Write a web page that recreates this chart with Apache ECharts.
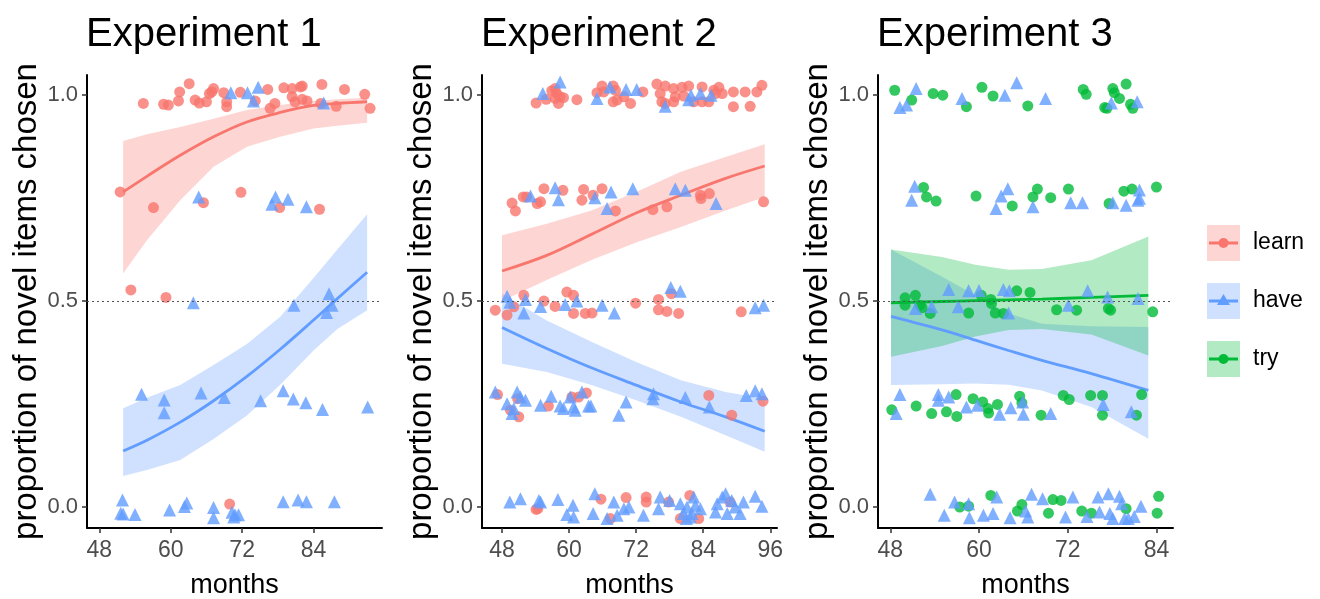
<!DOCTYPE html>
<html><head><meta charset="utf-8">
<script src="https://cdn.jsdelivr.net/npm/echarts@6/dist/echarts.min.js"></script>
<style>html,body{margin:0;padding:0;background:#fff}#c{width:1320px;height:599px}</style>
</head><body><div id="c"></div>
<script>
// ---------- data ----------
const titles = ['Experiment 1', 'Experiment 2', 'Experiment 3'];
const yTicks = [0, 0.5, 1];
const xTicks1 = [48, 60, 72, 84];
const xTicks2 = [48, 60, 72, 84, 96];
const xTicks3 = [48, 60, 72, 84];
const legendNames = ['learn', 'have', 'try'];

const exp1Learn = [[55.4,.98],[58.8,.978],[59.6,.976],[61.5,1.008],[61.3,.986],[63.1,1.028],[64.1,.988],[64.8,.981],[66.0,.984],[66.5,1.004],[67.2,1.016],[66.9,1.008],[68.9,1.006],[69.4,.984],[69.4,.972],[71.7,1.007],[74.2,.986],[76.3,1.014],[76.7,.968],[77.5,.98],[79.0,1.018],[80.4,1.016],[80.4,.996],[81.8,1.02],[82.1,1.022],[80.9,.984],[82.1,.99],[82.9,.986],[85.4,1.026],[85.2,.98],[87.8,.973],[89.2,1.014],[92.6,1.002],[93.5,.968],
  [51.5,.765],[57.1,.727],[65.5,.739],[71.8,.764],[78.3,.727],[85.0,.723],
  [53.3,.527],[59.2,.509],[69.9,.007]];
const exp1Have = [[70.1,1.006],[72.9,1.006],[74.7,1.019],[73.9,.986],[85.7,.981],
  [64.7,.753],[77.6,.753],[77.0,.735],[79.7,.747],[82.8,.729],
  [63.8,.496],[86.6,.518],[87.1,.49],[86.2,.472],[80.7,.49],
  [55.1,.274],[58.9,.26],[58.9,.229],[65.1,.277],[69.0,.266],[75.1,.258],[78.9,.282],[80.6,.262],[82.7,.253],[85.5,.237],[93.1,.243],
  [51.9,.017],[51.6,-.015],[52.0,-.017],[54.0,-.018],[59.8,-.007],[62.3,.001],[62.7,.01],[67.2,-.001],[67.2,-.026],[70.3,-.013],[70.8,-.019],[71.4,-.019],[70.6,-.024],[78.9,.013],[81.4,.017],[82.8,.013],[87.5,.013]];

const exp2Learn = [[54.1,.981],[55.9,.99],[56.9,1.011],[57.5,1.016],[57.8,1.004],[58.4,.996],[58.1,.98],[59.0,.994],[57.5,.992],[61.4,.989],[65.0,1.006],[65.9,1.022],[66.2,1.008],[67.9,1.022],[68.3,1.012],[67.9,.984],[68.6,.988],[69.8,.996],[71.0,.98],[73.2,1.008],[75.7,1.027],[77.2,1.022],[76.3,1.004],[76.6,.984],[77.2,.98],[78.7,1.016],[80.2,1.019],[81.4,1.022],[79.0,.996],[80.5,.998],[78.7,.984],[82.3,.984],[83.8,.984],[85.0,.984],[83.8,1.02],[85.9,1.012],[86.8,1.019],[86.2,1.004],[87.4,1.004],[89.4,1.008],[89.4,.972],[91.5,1.008],[92.4,.973],[93.6,1.008],[94.5,1.024],
  [49.8,.738],[50.4,.719],[51.8,.753],[52.4,.753],[54.3,.737],[54.9,.741],[55.5,.773],[58.9,.769],[62.6,.771],[62.3,.745],[64.3,.757],[65.9,.773],[68.3,.719],[75.0,.722],[77.5,.729],[83.5,.757],[83.6,.749],[85.1,.761],[94.8,.741],
  [46.8,.478],[48.9,.466],[50.1,.486],[51.9,.514],[55.5,.5],[57.5,.487],[59.6,.522],[60.8,.514],[60.8,.47],[62.9,.47],[64.1,.471],[71.9,.495],[76.0,.504],[76.0,.479],[77.5,.475],[78.3,.518],[79.6,.47],[90.8,.474],
  [47.2,.273],[49.5,.235],[51.0,.219],[50.8,.263],[56.3,.245],[60.5,.267],[61.7,.267],[63.1,.277],[85.0,.271],[89.1,.223],[94.7,.257],
  [54.1,-.006],[54.4,-.004],[65.7,.019],[67.4,-.028],[70.2,.023],[73.8,.024],[73.8,.012],[77.8,.012],[79.9,-.028],[81.6,.028],[83.2,-.028],[88.8,.012]];
const exp2Have = [[55.3,1.004],[58.4,1.032],[65.0,.992],[67.3,1.02],[70.2,1.014],[72.1,1.014],[77.2,.973],[81.4,.989],[81.8,1.0],[83.5,1.004],[85.4,1.0],
  [53.1,.755],[57.5,.775],[58.1,.746],[64.6,.751],[67.5,.765],[66.8,.725],[71.4,.773],[79.0,.773],[80.8,.769],[86.3,.737],
  [48.9,.512],[49.4,.497],[51.9,.471],[52.2,.504],[54.9,.487],[59.3,.492],[61.4,.5],[65.9,.49],[68.1,.471],[78.2,.533],[79.9,.524],[93.3,.484],[94.8,.49],
  [46.8,.279],[48.9,.251],[50.7,.279],[51.3,.267],[52.2,.259],[49.8,.227],[50.1,.239],[54.9,.247],[56.8,.269],[58.4,.245],[59.0,.239],[60.2,.267],[61.1,.235],[60.8,.243],[62.3,.279],[63.5,.245],[63.9,.245],[68.9,.223],[70.2,.255],[75.1,.275],[75.0,.263],[80.8,.266],[85.1,.243],[91.7,.271],[93.3,.282],[94.5,.275],
  [49.4,.012],[51.3,.02],[54.6,.016],[54.9,.012],[58.0,.018],[59.6,-.018],[60.8,-.024],[60.7,.004],[64.3,-.016],[64.6,.032],[66.8,-.028],[68.0,.012],[68.6,-.02],[69.8,-.004],[70.7,0],[73.3,-.02],[76.3,.024],[76.0,-.004],[78.0,.016],[79.9,.008],[80.4,-.016],[81.1,0],[81.7,-.024],[82.3,.024],[82.6,.004],[83.5,-.004],[81.0,-.028],[82.0,-.016],[86.2,-.012],[86.5,.008],[87.4,.024],[88.0,.032],[88.3,-.016],[89.1,.016],[89.7,0],[90.6,-.016],[91.2,.012],[93.3,.026],[94.5,.002]];

const exp3Try = [[48.6,1.012],[50.9,.988],[53.8,1.004],[55.1,1.0],[58.3,.972],[60.4,1.019],[61.9,.998],[66.6,.974],[74.1,1.014],[74.5,1.002],[77.0,.97],[77.3,.968],[78.1,1.016],[78.3,1.006],[79.0,.992],[79.9,1.027],[80.5,.978],[80.8,.968],
  [52.5,.776],[52.9,.753],[54.2,.743],[59.6,.755],[64.5,.731],[67.3,.753],[67.9,.772],[69.7,.751],[72.1,.772],[77.6,.737],[79.6,.767],[80.7,.772],[84.0,.777],
  [50.0,.508],[51.4,.514],[50.0,.49],[61.6,.504],[65.1,.525],[66.9,.521],[60.3,.514],[52.0,.49],[52.3,.484],[53.4,.47],[58.6,.471],[61.7,.494],[62.2,.471],[63.3,.47],[70.5,.479],[73.2,.478],[77.5,.482],[77.8,.478],[83.5,.474],
  [48.2,.236],[51.5,.245],[53.6,.227],[55.6,.231],[56.9,.273],[57.0,.22],[59.2,.263],[60.5,.255],[61.2,.239],[61.3,.228],[62.5,.249],[65.5,.269],[65.8,.253],[68.4,.223],[71.4,.271],[72.2,.261],[75.1,.271],[76.7,.271],[76.7,.223],[81.3,.223],[82.0,.273],
  [61.6,.028],[57.4,0],[58.6,.002],[65.8,.006],[65.2,-.01],[69.4,-.015],[70.0,.018],[71.1,.016],[73.9,-.01],[75.2,-.015],[79.9,-.004],[84.3,.026],[84.1,-.015]];
const exp3Have = [[49.3,.97],[50.2,.976],[51.5,1.016],[57.7,.992],[63.5,1.0],[65.1,1.03],[69.0,.992],[77.9,.981],[81.4,.984],
  [51.3,.779],[50.9,.745],[63.0,.755],[63.9,.773],[62.3,.725],[67.3,.729],[72.4,.739],[74.0,.739],[78.1,.739],[79.9,.733],[81.7,.77],[81.7,.75],[81.5,.745],
  [55.9,.528],[58.6,.525],[60.0,.526],[63.3,.528],[64.1,.525],[74.7,.525],[77.4,.51],[81.5,.506],[51.4,.482],[53.6,.486],[57.2,.486],[64.0,.471],[72.1,.49],
  [49.3,.273],[48.8,.227],[54.5,.273],[54.5,.259],[55.9,.267],[58.3,.243],[59.8,.247],[62.8,.225],[64.3,.241],[66.0,.225],[65.9,.255],[69.7,.227],[76.8,.249],[80.6,.231],
  [53.4,.031],[55.3,-.02],[56.7,.012],[58.6,.008],[58.7,-.026],[60.6,-.02],[61.9,-.016],[62.4,.024],[64.2,-.026],[66.6,-.024],[66.3,-.01],[67.1,.031],[68.6,.02],[71.7,-.024],[72.7,.024],[74.6,-.023],[76.1,.024],[76.3,-.012],[77.5,.032],[77.7,-.016],[79.0,.026],[79.3,.008],[78.1,-.028],[79.7,-.028],[80.2,-.028],[81.0,-.023],[81.9,.002]];

// fitted curves and confidence bands
const exp1FitX     = [52, 56, 61.6, 67.2, 72.8, 78.4, 84, 88, 93];
const exp1LearnFit = [.765,.803,.854,.899,.935,.958,.975,.980,.984];
const exp1LearnLo  = [.567,.648,.745,.826,.875,.899,.919,.926,.933];
const exp1LearnHi  = [.889,.905,.923,.943,.964,.976,.986,.990,.994];
const exp1HaveFit  = [.136,.162,.206,.258,.317,.383,.454,.506,.570];
const exp1HaveLo   = [.075,.090,.114,.165,.222,.297,.380,.432,.478];
const exp1HaveHi   = [.240,.265,.296,.345,.396,.462,.556,.625,.711];

const exp2FitX     = [48, 56, 64, 72, 80, 88, 95];
const exp2LearnFit = [.573,.611,.662,.714,.757,.798,.828];
const exp2LearnLo  = [.500,.551,.600,.642,.680,.720,.753];
const exp2LearnHi  = [.660,.688,.720,.765,.814,.850,.881];
const exp2HaveFit  = [.436,.385,.338,.296,.255,.219,.184];
const exp2HaveLo   = [.348,.328,.296,.259,.219,.174,.134];
const exp2HaveHi   = [.518,.453,.401,.352,.308,.279,.263];

const exp3FitX     = [48.1, 55.0, 59.5, 64.0, 68.5, 75.2, 82.9];
const exp3TryFit   = [.496,.499,.501,.503,.505,.509,.514];
const exp3TryLo    = [.365,.391,.414,.430,.432,.419,.368];
const exp3TryHi    = [.625,.607,.588,.576,.578,.599,.657];
const exp3HaveFit  = [.463,.430,.405,.380,.356,.324,.283];
const exp3HaveLo   = [.296,.298,.300,.297,.283,.243,.166];
const exp3HaveHi   = [.625,.559,.514,.470,.445,.439,.437];

// ---------- style ----------
const FONT = 'Liberation Sans, Arial, Helvetica, sans-serif';
const C = { learn: '#F8766D', have: '#619CFF', try: '#00BA38' };
const grids = [
  { left: 87, top: 75, width: 295, height: 453, outerBoundsMode: 'none', containLabel: false },
  { left: 482, top: 75, width: 295, height: 453, outerBoundsMode: 'none', containLabel: false },
  { left: 878, top: 75, width: 295, height: 453, outerBoundsMode: 'none', containLabel: false }
];
const xRanges = [[45.93, 95.5], [44.42, 97.2], [46.34, 86.24]];
const xTickSets = [xTicks1, xTicks2, xTicks3];

const xAxes = xRanges.map((r, i) => ({
  type: 'value', gridIndex: i, min: r[0], max: r[1],
  name: 'months', nameLocation: 'middle', nameGap: 44,
  nameTextStyle: { fontSize: 27, color: '#000', fontFamily: FONT },
  axisLine: { show: true, onZero: false, lineStyle: { color: '#000', width: 2 } },
  axisTick: { show: true, customValues: xTickSets[i], length: 5, lineStyle: { color: '#333', width: 1.5 } },
  axisLabel: { customValues: xTickSets[i], fontSize: 23, color: '#4d4d4d', margin: 11, fontFamily: FONT },
  splitLine: { show: false }
}));
const yAxes = grids.map((g, i) => ({
  type: 'value', gridIndex: i, min: -0.051, max: 1.049,
  name: 'proportion of novel items chosen', nameLocation: 'middle', nameGap: 38,
  nameTextStyle: { fontSize: 33, color: '#000', fontFamily: FONT },
  axisLine: { show: true, onZero: false, lineStyle: { color: '#000', width: 2 } },
  axisTick: { show: true, customValues: yTicks, length: 5, lineStyle: { color: '#333', width: 1.5 } },
  axisLabel: { customValues: yTicks, formatter: v => v.toFixed(1), fontSize: 22, color: '#4d4d4d', margin: 9, fontFamily: FONT },
  splitLine: { show: false }
}));

function ribbon(idx, xs, lo, hi, color) {
  return {
    type: 'custom', xAxisIndex: idx, yAxisIndex: idx, z: 1, silent: true,
    data: xs.map((x, i) => [x, lo[i], hi[i]]),
    encode: { x: 0, y: [1, 2] },
    renderItem: (params, api) => {
      if (params.dataIndex !== 0) return null;
      const pts = [];
      for (let i = 0; i < xs.length; i++) pts.push(api.coord([xs[i], hi[i]]));
      for (let i = xs.length - 1; i >= 0; i--) pts.push(api.coord([xs[i], lo[i]]));
      return { type: 'polygon', shape: { points: pts }, style: { fill: color, opacity: 0.3 } };
    }
  };
}
function fitLine(idx, xs, ys, color) {
  return {
    type: 'line', xAxisIndex: idx, yAxisIndex: idx, z: 2, silent: true,
    data: xs.map((x, i) => [x, ys[i]]), smooth: 0.35, showSymbol: false,
    lineStyle: { color: color, width: 2.8 }
  };
}
function pts(idx, data, color, symbol, withRef) {
  const s = {
    type: 'scatter', xAxisIndex: idx, yAxisIndex: idx, z: 3, silent: true,
    data: data, symbol: symbol, symbolSize: symbol === 'triangle' ? 13 : 11,
    itemStyle: { color: color, opacity: 0.8 }
  };
  if (withRef) {
    s.markLine = {
      silent: true, symbol: 'none', label: { show: false },
      lineStyle: { type: [2, 3], color: '#555', width: 1 },
      data: [{ yAxis: 0.5 }]
    };
  }
  return s;
}

const series = [
  pts(0, [], C.learn, 'circle', true),
  pts(1, [], C.learn, 'circle', true),
  pts(2, [], C.try, 'circle', true),
  ribbon(0, exp1FitX, exp1LearnLo, exp1LearnHi, C.learn),
  ribbon(0, exp1FitX, exp1HaveLo, exp1HaveHi, C.have),
  ribbon(1, exp2FitX, exp2LearnLo, exp2LearnHi, C.learn),
  ribbon(1, exp2FitX, exp2HaveLo, exp2HaveHi, C.have),
  ribbon(2, exp3FitX, exp3HaveLo, exp3HaveHi, C.have),
  ribbon(2, exp3FitX, exp3TryLo, exp3TryHi, C.try),
  fitLine(0, exp1FitX, exp1LearnFit, C.learn),
  fitLine(0, exp1FitX, exp1HaveFit, C.have),
  fitLine(1, exp2FitX, exp2LearnFit, C.learn),
  fitLine(1, exp2FitX, exp2HaveFit, C.have),
  fitLine(2, exp3FitX, exp3HaveFit, C.have),
  fitLine(2, exp3FitX, exp3TryFit, C.try),
  pts(0, exp1Learn, C.learn, 'circle'),
  pts(0, exp1Have, C.have, 'triangle'),
  pts(1, exp2Learn, C.learn, 'circle'),
  pts(1, exp2Have, C.have, 'triangle'),
  pts(2, exp3Try, C.try, 'circle'),
  pts(2, exp3Have, C.have, 'triangle')
];

// legend built as graphics
const legendColors = [C.learn, C.have, C.try];
const legendShapes = ['circle', 'triangle', 'circle'];
const legendGraphics = [];
legendNames.forEach((n, i) => {
  const cy = 243 + i * 58;
  const col = legendColors[i];
  legendGraphics.push({ type: 'rect', left: 1207, top: cy - 18, shape: { width: 33, height: 36 }, style: { fill: col, opacity: 0.3 } });
  legendGraphics.push({ type: 'line', shape: { x1: 1209, y1: cy, x2: 1238, y2: cy }, style: { stroke: col, lineWidth: 3 } });
  if (legendShapes[i] === 'circle') {
    legendGraphics.push({ type: 'circle', shape: { cx: 1223.5, cy: cy, r: 5 }, style: { fill: col } });
  } else {
    legendGraphics.push({ type: 'polygon', shape: { points: [[1223.5, cy - 7], [1230, cy + 4], [1217, cy + 4]] }, style: { fill: col } });
  }
  legendGraphics.push({ type: 'text', left: 1253, top: cy - 12, style: { text: n, fontSize: 23, fill: '#000', font: '23px ' + FONT } });
});

const option = {
  animation: false,
  backgroundColor: '#fff',
  title: titles.map((t, i) => ({
    text: t, left: grids[i].left - 6, top: 10,
    textStyle: { fontSize: 40, fontWeight: 'normal', color: '#000', fontFamily: FONT }
  })),
  grid: grids,
  xAxis: xAxes,
  yAxis: yAxes,
  series: series,
  graphic: legendGraphics
};
const chart = echarts.init(document.getElementById('c'), null, { renderer: 'canvas' });
chart.setOption(option);
</script>
</body></html>
